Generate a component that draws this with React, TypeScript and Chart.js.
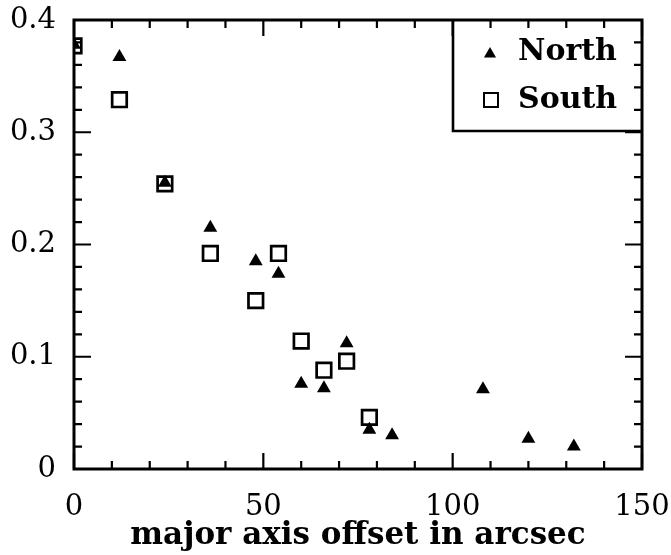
import React, { useEffect, useRef } from "react";
import { Chart, registerables } from "chart.js";

Chart.register(...registerables);

const northLabel = "North";
const southLabel = "South";
const xTitle = "major axis offset in arcsec";

const northX = [0, 12, 24, 36, 48, 54, 60, 66, 72, 78, 84, 108, 120, 132];
const northY = [0.378, 0.367, 0.255, 0.215, 0.185, 0.174, 0.076, 0.072, 0.112, 0.035, 0.03, 0.071, 0.027, 0.02];

const southX = [0, 12, 24, 36, 48, 54, 60, 66, 72, 78];
const southY = [0.377, 0.329, 0.254, 0.192, 0.15, 0.192, 0.114, 0.088, 0.096, 0.046];

const xMin = 0, xMax = 150, xMajor = 50, xMinor = 10;
const yMin = 0, yMax = 0.4, yMajor = 0.1, yMinor = 0.02;

const FONT = "'DejaVu Serif', serif";

function drawTri(ctx: CanvasRenderingContext2D, x: number, y: number, r: number) {
  ctx.beginPath();
  for (let i = 0; i < 3; i++) {
    const a = (i * 2 * Math.PI) / 3;
    const px = x + Math.sin(a) * r;
    const py = y - Math.cos(a) * r;
    if (i === 0) ctx.moveTo(px, py);
    else ctx.lineTo(px, py);
  }
  ctx.closePath();
  ctx.fill();
}

const framePlugin = {
  id: "frameTicks",
  afterDraw(chart: any) {
    const { ctx, chartArea } = chart;
    const { left, right, top, bottom } = chartArea;
    const xs = chart.scales.x;
    const ys = chart.scales.y;
    const nx = Math.round((xMax - xMin) / xMinor);
    const ny = Math.round((yMax - yMin) / yMinor);
    const isMajor = (v: number, m: number) => Math.abs(v / m - Math.round(v / m)) < 1e-6;
    const lx = right - 189, lb = top + 111;
    ctx.save();
    ctx.strokeStyle = "#000";
    ctx.lineCap = "butt";

    // legend box background and border
    ctx.fillStyle = "#fff";
    ctx.fillRect(lx, top, right - lx, lb - top);
    ctx.lineWidth = 2.6;
    ctx.beginPath();
    ctx.moveTo(lx, top);
    ctx.lineTo(lx, lb);
    ctx.lineTo(right, lb);
    ctx.stroke();

    // inward ticks on all four sides
    ctx.lineWidth = 2.2;
    ctx.beginPath();
    for (let i = 0; i <= nx; i++) {
      const v = xMin + i * xMinor;
      const len = isMajor(v, xMajor) ? 16 : 8;
      const p = xs.getPixelForValue(v);
      ctx.moveTo(p, bottom);
      ctx.lineTo(p, bottom - len);
      ctx.moveTo(p, top);
      ctx.lineTo(p, top + len);
    }
    for (let i = 0; i <= ny; i++) {
      const v = yMin + i * yMinor;
      const len = isMajor(v, yMajor) ? 17 : 8;
      const p = ys.getPixelForValue(v);
      ctx.moveTo(left, p);
      ctx.lineTo(left + len, p);
      ctx.moveTo(right, p);
      ctx.lineTo(right - len, p);
    }
    ctx.stroke();

    // legend entries
    const ds = chart.data.datasets;
    ctx.fillStyle = "#000";
    drawTri(ctx, lx + 37, top + 34, 7);
    ctx.lineWidth = 2;
    ctx.strokeRect(lx + 31, top + 73, 14, 14);
    ctx.font = "bold 30px " + FONT;
    ctx.textAlign = "left";
    ctx.textBaseline = "middle";
    ctx.fillText(ds[0].label, lx + 65, top + 32);
    ctx.fillText(ds[1].label, lx + 65, top + 80);

    // frame
    ctx.lineWidth = 3;
    ctx.strokeRect(left, top, right - left, bottom - top);
    ctx.restore();
  },
};

export default function App() {
  const ref = useRef<HTMLCanvasElement>(null);
  useEffect(() => {
    if (!ref.current) return;
    const chart = new Chart(ref.current, {
      type: "scatter",
      data: {
        datasets: [
          {
            label: northLabel,
            data: northX.map((x, i) => ({ x, y: northY[i] })),
            pointStyle: "triangle",
            pointRadius: 8,
            pointHoverRadius: 8,
            backgroundColor: "#000",
            borderColor: "#000",
            borderWidth: 0,
            clip: 0,
          },
          {
            label: southLabel,
            data: southX.map((x, i) => ({ x, y: southY[i] })),
            pointStyle: "rect",
            pointRadius: 10.3,
            pointHoverRadius: 10.3,
            backgroundColor: "rgba(0,0,0,0)",
            borderColor: "#000",
            borderWidth: 2.7,
            clip: 0,
          },
        ],
      },
      options: {
        responsive: false,
        animation: false,
        devicePixelRatio: 1,
        events: [],
        layout: { padding: { top: 20, right: 29, left: 0, bottom: 0 } },
        plugins: { legend: { display: false }, tooltip: { enabled: false } },
        scales: {
          x: {
            type: "linear",
            min: xMin,
            max: xMax,
            grid: { display: false, drawTicks: false },
            border: { display: false },
            ticks: {
              stepSize: xMajor,
              padding: 21,
              color: "#000",
              maxRotation: 0,
              font: { family: FONT, size: 29 },
            },
            title: {
              display: true,
              text: xTitle,
              color: "#000",
              padding: 0,
              font: { family: FONT, size: 31, weight: "bold" },
            },
            afterFit(s: any) {
              s.height = 86;
              s.paddingLeft = 0;
              s.paddingRight = 0;
            },
          },
          y: {
            type: "linear",
            min: yMin,
            max: yMax,
            grid: { display: false, drawTicks: false },
            border: { display: false },
            ticks: {
              stepSize: yMajor,
              padding: 18,
              color: "#000",
              font: { family: FONT, size: 29 },
            },
            afterFit(s: any) {
              s.width = 74;
              s.paddingTop = 0;
              s.paddingBottom = 0;
            },
          },
        },
      },
      plugins: [framePlugin],
    });
    return () => chart.destroy();
  }, []);
  return (
    <div style={{ position: "absolute", left: 0, top: 0, width: 671, height: 555, background: "#fff" }}>
      <canvas ref={ref} width={671} height={555} />
    </div>
  );
}
